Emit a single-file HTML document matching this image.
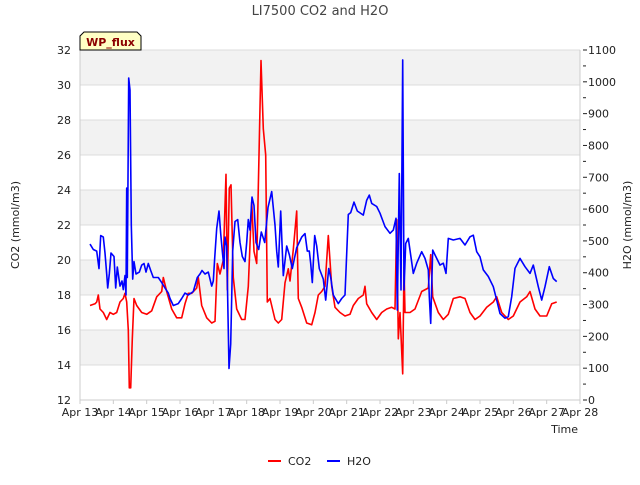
<!DOCTYPE html>
<html><head><meta charset="utf-8"><style>
body{margin:0;background:#fff}
svg text{font-family:"DejaVu Sans","Liberation Sans",sans-serif}
</style></head><body>
<svg width="640" height="480" xmlns="http://www.w3.org/2000/svg">
<g id="bands"></g>
<g id="axes"></g>
<g id="series"></g>
<text x="320" y="15" text-anchor="middle" font-size="13" fill="#444">LI7500 CO2 and H2O</text>
<text transform="translate(19,225) rotate(-90)" text-anchor="middle" font-size="11" fill="#222">CO2 (mmol/m3)</text>
<text transform="translate(631,225) rotate(-90)" text-anchor="middle" font-size="11" fill="#222">H2O (mmol/m3)</text>
<text x="578" y="433" text-anchor="end" font-size="11" fill="#222">Time</text>
<g>
<path d="M80,50 L80,36 L84,32 L137,32 L141,36 L141,50 Z" fill="#ffffc4" stroke="#000" stroke-width="1"/>
<text x="110.5" y="46" text-anchor="middle" font-size="11" font-weight="bold" fill="#8b0000">WP_flux</text>
</g>
<g>
<line x1="268" y1="461" x2="281" y2="461" stroke="#f00" stroke-width="2"/>
<text x="288" y="465" font-size="11" fill="#222">CO2</text>
<line x1="327" y1="461" x2="340" y2="461" stroke="#00f" stroke-width="2"/>
<text x="347" y="465" font-size="11" fill="#222">H2O</text>
</g>
</svg>
<script>
const xTickLabels=["Apr 13","Apr 14","Apr 15","Apr 16","Apr 17","Apr 18","Apr 19","Apr 20","Apr 21","Apr 22","Apr 23","Apr 24","Apr 25","Apr 26","Apr 27","Apr 28"];
const leftTicks=[12,14,16,18,20,22,24,26,28,30,32];
const rightTicks=[0,100,200,300,400,500,600,700,800,900,1000,1100];
const co2Days=[0.3,0.45,0.5,0.55,0.6,0.7,0.8,0.9,1.0,1.1,1.2,1.3,1.35,1.4,1.45,1.48,1.52,1.57,1.62,1.7,1.85,2.0,2.15,2.3,2.45,2.5,2.6,2.75,2.9,3.05,3.15,3.25,3.35,3.5,3.55,3.65,3.8,3.95,4.05,4.12,4.2,4.3,4.38,4.42,4.48,4.53,4.6,4.7,4.85,4.95,5.05,5.15,5.22,5.3,5.43,5.5,5.57,5.62,5.7,5.85,5.95,6.05,6.15,6.25,6.3,6.4,6.5,6.55,6.65,6.8,6.95,7.05,7.15,7.25,7.35,7.45,7.55,7.65,7.8,7.95,8.1,8.2,8.35,8.5,8.55,8.6,8.75,8.9,9.05,9.2,9.35,9.45,9.5,9.55,9.6,9.68,9.72,9.75,9.9,10.05,10.25,10.45,10.52,10.58,10.75,10.9,11.05,11.2,11.4,11.55,11.7,11.85,12.0,12.2,12.4,12.5,12.65,12.85,13.0,13.2,13.4,13.5,13.65,13.8,14.0,14.15,14.3];
const co2Values=[17.4,17.5,17.6,18.0,17.2,17.0,16.6,17.0,16.9,17.0,17.6,17.8,18.1,17.6,16.0,12.7,12.7,15.5,17.8,17.4,17.0,16.9,17.1,17.9,18.2,19.0,18.2,17.2,16.7,16.7,17.5,18.1,18.1,18.4,19.0,17.4,16.7,16.4,16.5,19.8,19.2,20.0,24.9,18.3,24.1,24.3,19.0,17.2,16.6,16.6,18.5,23.3,20.5,19.8,31.4,27.5,26.0,17.6,17.8,16.6,16.4,16.6,18.7,19.5,18.8,20.6,22.8,17.8,17.3,16.4,16.3,17.0,18.0,18.2,18.5,21.4,18.5,17.3,17.0,16.8,16.9,17.4,17.8,18.0,18.5,17.5,17.0,16.6,17.0,17.2,17.3,17.2,22.3,15.5,17.0,13.5,19.6,17.0,17.0,17.2,18.2,18.4,20.3,17.9,17.0,16.6,16.9,17.8,17.9,17.8,17.0,16.6,16.8,17.3,17.6,17.9,17.0,16.6,16.8,17.6,17.9,18.2,17.2,16.8,16.8,17.5,17.6];
const h2oDays=[0.30,0.40,0.50,0.57,0.62,0.70,0.75,0.80,0.83,0.88,0.93,1.02,1.07,1.12,1.20,1.26,1.30,1.35,1.38,1.40,1.42,1.46,1.50,1.54,1.58,1.62,1.68,1.78,1.85,1.92,1.98,2.05,2.12,2.20,2.35,2.45,2.55,2.65,2.70,2.80,2.95,3.05,3.15,3.25,3.40,3.52,3.60,3.66,3.75,3.85,3.95,4.00,4.04,4.10,4.17,4.22,4.27,4.32,4.35,4.40,4.47,4.52,4.58,4.65,4.73,4.80,4.87,4.95,5.00,5.05,5.10,5.16,5.22,5.28,5.36,5.44,5.54,5.64,5.75,5.85,5.90,5.95,6.02,6.10,6.20,6.28,6.37,6.50,6.65,6.75,6.82,6.88,6.92,6.97,7.04,7.10,7.18,7.30,7.37,7.46,7.52,7.60,7.75,7.85,7.95,8.05,8.12,8.22,8.32,8.50,8.60,8.68,8.75,8.90,9.00,9.15,9.30,9.40,9.48,9.52,9.58,9.63,9.68,9.72,9.77,9.85,10.00,10.10,10.25,10.35,10.45,10.48,10.52,10.58,10.70,10.80,10.90,10.98,11.05,11.20,11.40,11.55,11.70,11.80,11.90,12.00,12.10,12.25,12.40,12.50,12.60,12.75,12.85,12.95,13.05,13.20,13.35,13.50,13.60,13.75,13.85,13.95,14.08,14.20,14.30];
const h2oValues=[490,473,468,413,517,512,462,396,352,396,462,451,352,418,358,374,347,391,330,666,385,1012,974,550,380,435,396,402,424,429,402,429,407,385,385,369,352,336,319,297,303,319,336,330,341,385,396,407,396,402,358,374,446,539,594,523,468,413,512,484,99,176,468,561,567,495,451,435,495,567,534,638,611,495,473,528,495,605,655,550,468,418,594,391,484,457,413,479,512,523,468,468,429,369,517,484,413,380,314,413,385,330,303,319,330,583,589,622,594,581,628,644,618,608,587,545,524,534,571,283,712,346,1069,346,492,508,398,430,466,445,409,325,241,471,445,424,430,398,508,503,508,487,513,518,466,450,409,388,356,314,272,257,262,325,414,445,419,398,424,356,314,356,419,382,372];

const L=80,R=580,T=50,B=400;
const xs=d=>L+d*(R-L)/15;
const yL=v=>B-(v-12)*(B-T)/20;
const yR=v=>B-v*(B-T)/1100;
const NS="http://www.w3.org/2000/svg";
function mk(parent,tag,attrs){const e=document.createElementNS(NS,tag);for(const k in attrs)e.setAttribute(k,attrs[k]);document.getElementById(parent).appendChild(e);return e;}
// bands
for(let i=0;i<10;i++){
  const v0=12+i*2;
  const r=mk('bands','rect',{x:L,y:yL(v0+2),width:R-L,height:yL(v0)-yL(v0+2),fill:(i%2==1)?'#f2f2f2':'#ffffff'});
  
  
}
leftTicks.forEach(v=>{
  const g=mk('axes','line',{x1:L,x2:R,y1:yL(v),y2:yL(v),stroke:'#dcdcdc','stroke-width':1});
  
  
  const t=mk('axes','text',{x:L-9,y:yL(v)+4,'text-anchor':'end','font-size':11,fill:'#222'});
  t.textContent=v;
  
  
});
mk('axes','line',{x1:L,x2:L,y1:T,y2:B,stroke:'#ccc'});
mk('axes','line',{x1:R,x2:R,y1:T,y2:B,stroke:'#ccc'});
mk('axes','line',{x1:L,x2:R,y1:B,y2:B,stroke:'#ccc'});
rightTicks.forEach(v=>{
  mk('axes','line',{x1:R+3,x2:R+7,y1:yR(v),y2:yR(v),stroke:'#222'});
  if(v<1100)mk('axes','line',{x1:R+3,x2:R+6,y1:yR(v+50),y2:yR(v+50),stroke:'#222'});
  const t=mk('axes','text',{x:R+8,y:yR(v)+4,'font-size':11,fill:'#222'});
  t.textContent=v;
  
  
});
xTickLabels.forEach((lab,i)=>{
  mk('axes','line',{x1:xs(i),x2:xs(i),y1:B,y2:B+4,stroke:'#ccc'});
  const t=mk('axes','text',{x:xs(i),y:B+16,'text-anchor':'middle','font-size':11,fill:'#222'});
  t.textContent=lab;
  
  
});
function line(days,vals,yf,color,name){
  const pts=days.map((d,i)=>xs(d).toFixed(1)+','+yf(vals[i]).toFixed(1)).join(' ');
  const p=mk('series','polyline',{points:pts,fill:'none',stroke:color,'stroke-width':1.6,'stroke-linejoin':'round'});
  
  
}
line(co2Days,co2Values,yL,'#ff0000','co2-line');
line(h2oDays,h2oValues,yR,'#0000ff','h2o-line');
</script>
</body></html>
